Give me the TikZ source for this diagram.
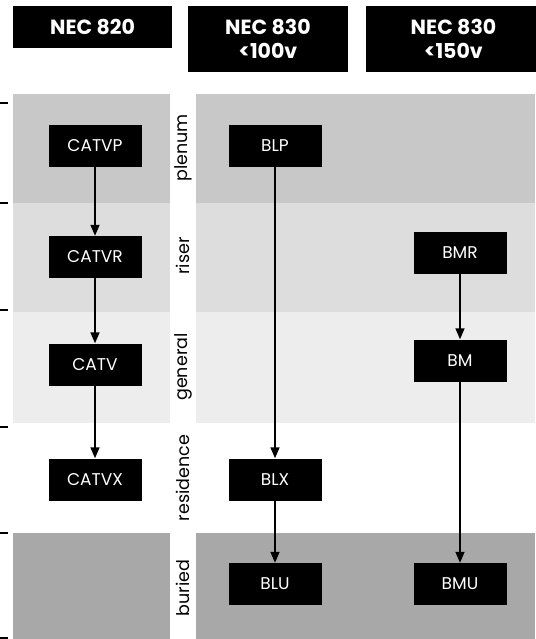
\documentclass[tikz,border=0pt]{standalone}
\usepackage{fontspec}
\setmainfont{Poppins}
\usetikzlibrary{arrows.meta}
\definecolor{plenumgray}{RGB}{200,200,200}
\definecolor{risergray}{RGB}{221,221,221}
\definecolor{generalgray}{RGB}{237,237,237}
\definecolor{buriedgray}{RGB}{168,168,168}
\tikzset{
  cable/.style={fill=black, text=white, minimum width=93pt, minimum height=42pt, inner sep=0pt, font=\fontsize{17}{19}\selectfont},
  header/.style={fill=black, text=white, inner sep=0pt, font=\bfseries\fontsize{20.5}{24}\selectfont, align=center},
  bandlabel/.style={rotate=90, inner sep=0pt, font=\fontsize{17.5}{19}\selectfont},
  flow/.style={draw=black, line width=1.5pt, -{Triangle[length=11pt,width=9pt]}},
  tick/.style={draw=black, line width=2pt}
}
\begin{document}
\begin{tikzpicture}[x=1pt,y=-1pt]
\useasboundingbox (0,0) rectangle (535,639);
\fill[white] (0,0) rectangle (535,639);
% bands left column
\fill[plenumgray] (13,94) rectangle (170,203);
\fill[risergray] (13,203) rectangle (170,312);
\fill[generalgray] (13,312) rectangle (170,423);
\fill[buriedgray] (13,533) rectangle (170,639);
% bands right area
\fill[plenumgray] (196,94) rectangle (535,203);
\fill[risergray] (196,203) rectangle (535,312);
\fill[generalgray] (196,312) rectangle (535,423);
\fill[buriedgray] (196,533) rectangle (535,639);
% ticks
\foreach \ty in {103,203,310,427,533,638} \draw[tick] (0,\ty) -- (8,\ty);
% headers
\node[header, minimum width=159pt, minimum height=42pt] (h1) at (92.5,27) {NEC 820};
\node[header, minimum width=160pt, minimum height=66pt] (h2) at (268,39) {NEC 830\\<100v};
\node[header, minimum width=175pt, minimum height=66pt] (h3) at (453.5,39) {NEC 830\\<150v};
% band labels
\node[bandlabel] (lplenum) at (183,148) {plenum};
\node[bandlabel] (lriser) at (183,256) {riser};
\node[bandlabel] (lgeneral) at (183,367) {general};
\node[bandlabel] (lresidence) at (183,478) {residence};
\node[bandlabel] (lburied) at (183,588) {buried};
% cable nodes
\node[cable] (catvp) at (95,146) {CATVP};
\node[cable] (catvr) at (95,257) {CATVR};
\node[cable] (catv) at (95,364.5) {CATV};
\node[cable] (catvx) at (95,479.5) {CATVX};
\node[cable] (blp) at (275,146) {BLP};
\node[cable] (blx) at (275,479.5) {BLX};
\node[cable] (blu) at (275,584) {BLU};
\node[cable] (bmr) at (460,253) {BMR};
\node[cable] (bm) at (460,360.5) {BM};
\node[cable] (bmu) at (460,584) {BMU};
% connectors
\draw[flow] (catvp) -- (catvr);
\draw[flow] (catvr) -- (catv);
\draw[flow] (catv) -- (catvx);
\draw[flow] (blp) -- (blx);
\draw[flow] (blx) -- (blu);
\draw[flow] (bmr) -- (bm);
\draw[flow] (bm) -- (bmu);
\end{tikzpicture}
\end{document}
